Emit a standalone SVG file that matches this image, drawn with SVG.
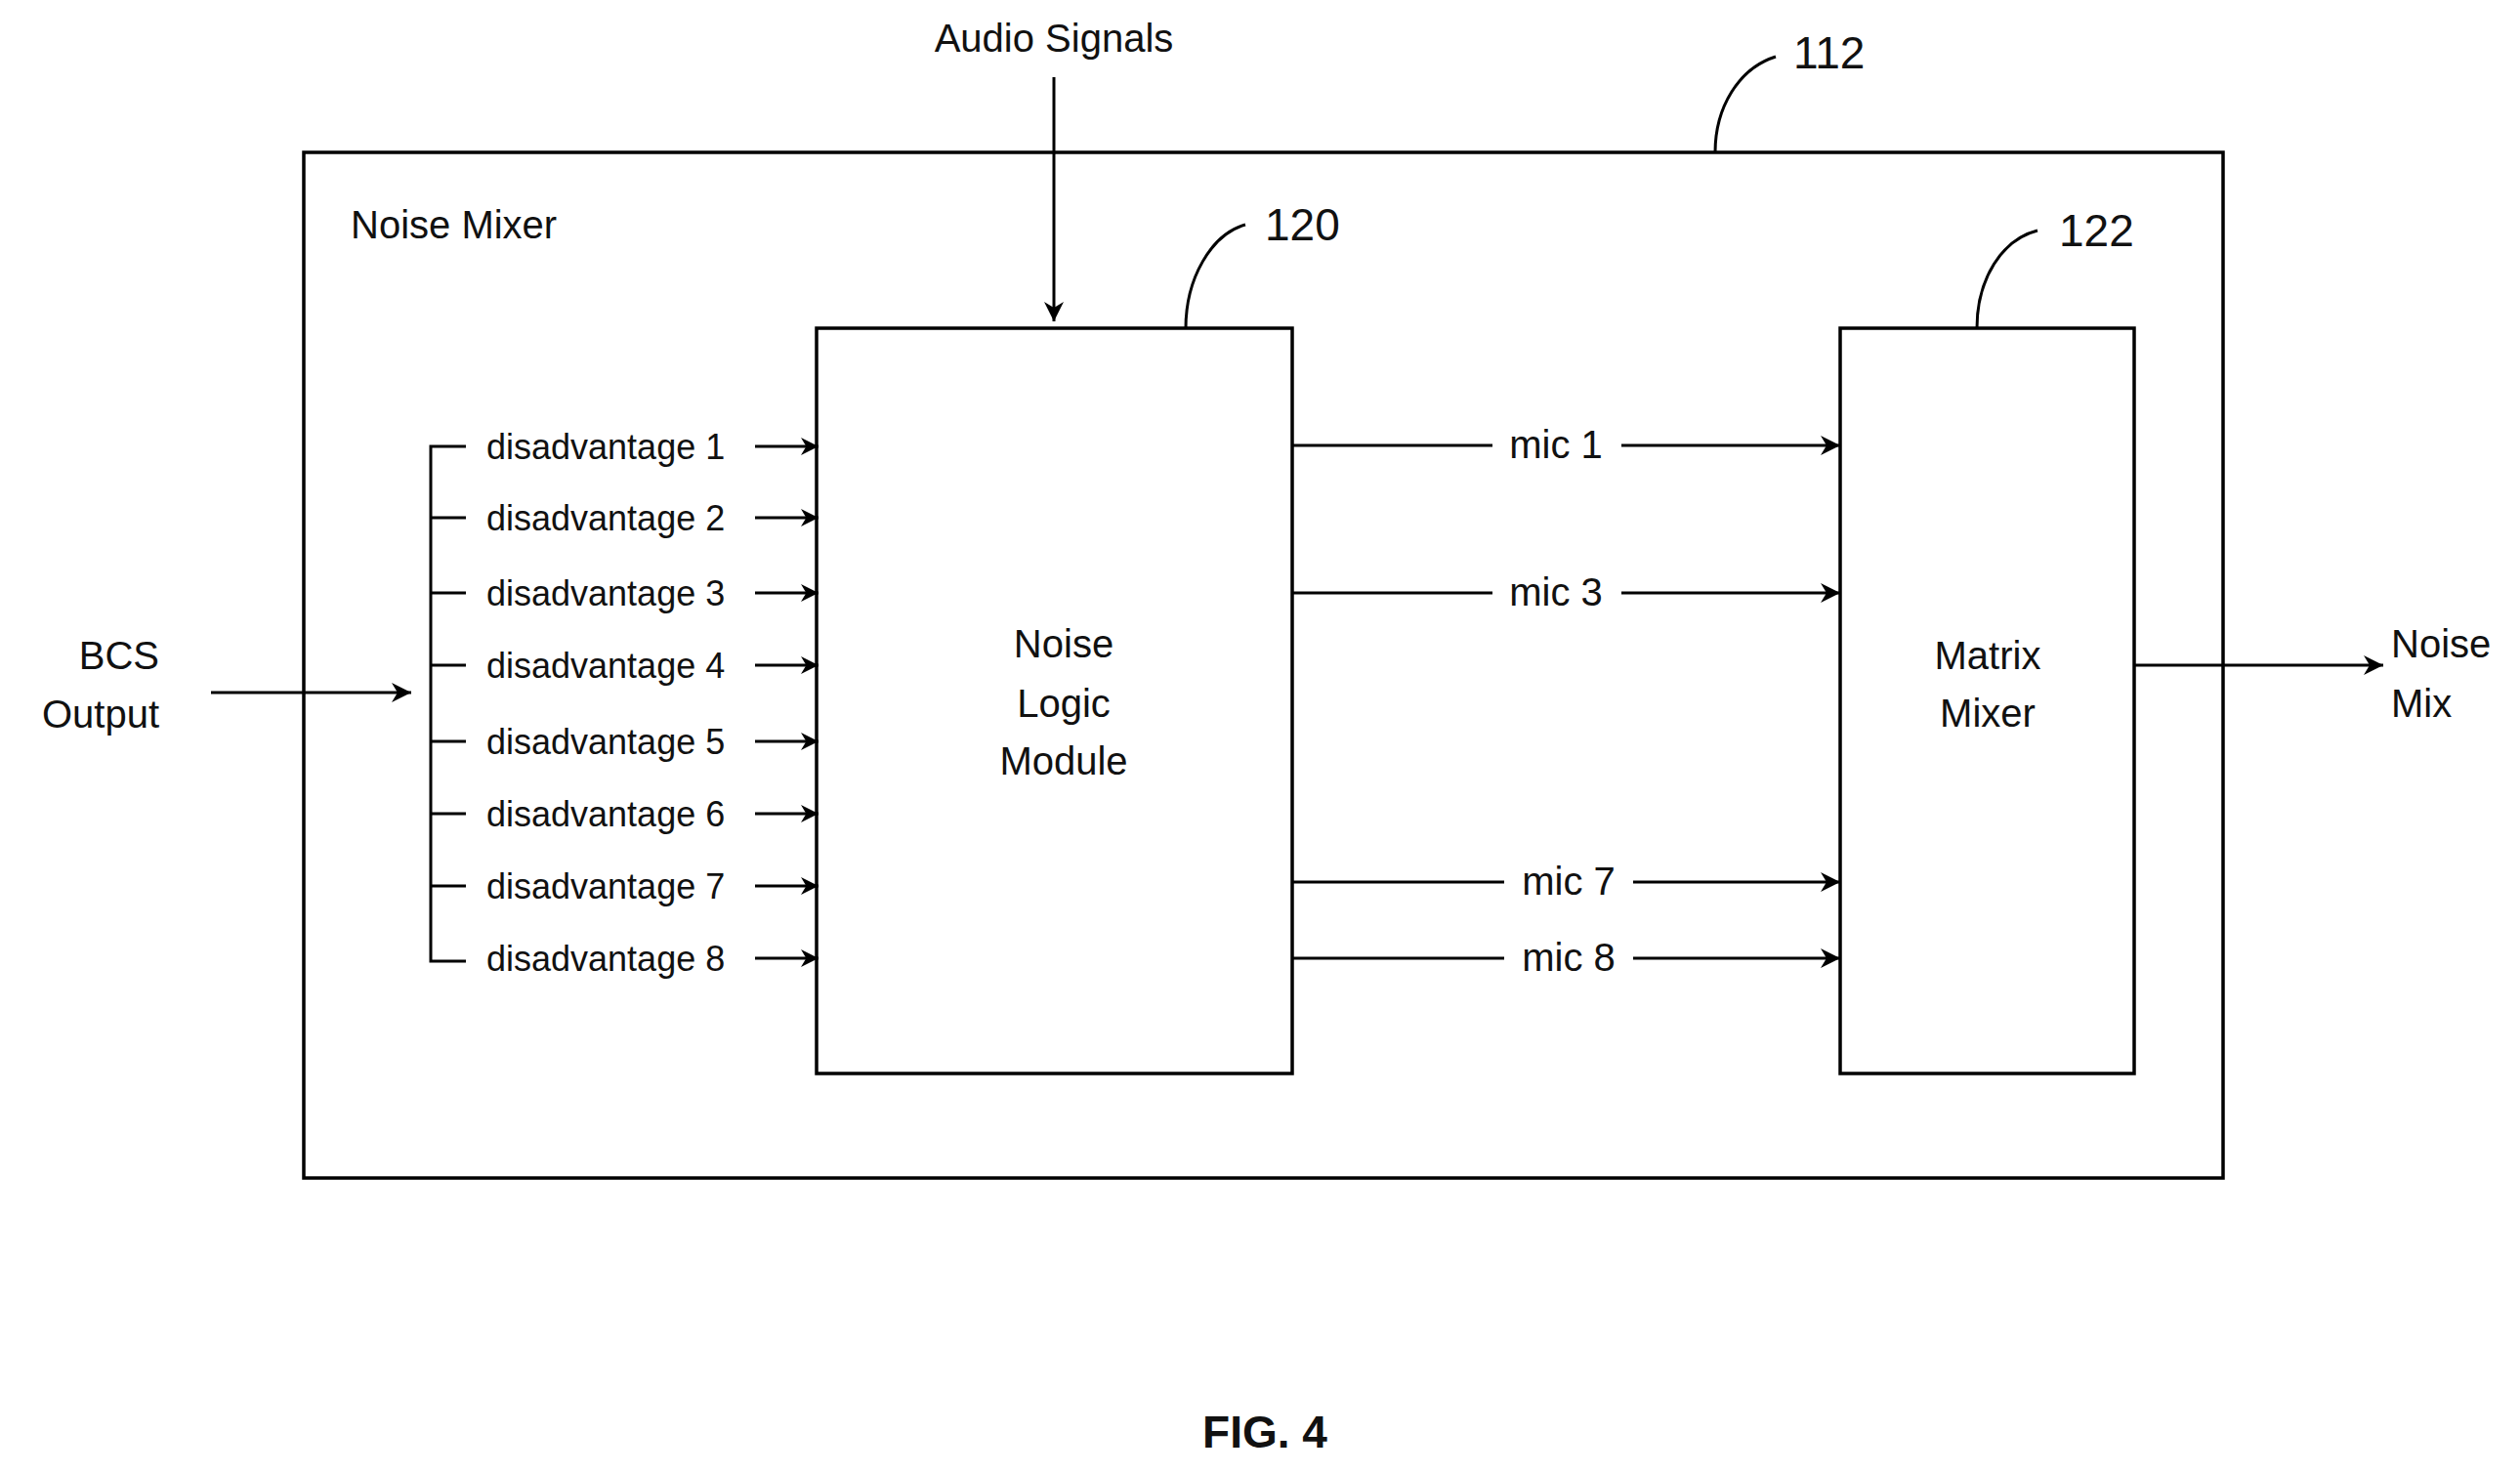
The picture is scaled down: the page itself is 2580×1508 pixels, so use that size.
<svg xmlns="http://www.w3.org/2000/svg" width="2580" height="1508" viewBox="0 0 2580 1508">
<style>
.l{stroke:#000;stroke-width:3;fill:none}
.b{stroke:#000;stroke-width:3.5;fill:#fff}
text{font-family:"Liberation Sans",Arial,sans-serif;font-size:40px;fill:#111}
.d{font-size:36px}
.n{font-size:46px}
.m{text-anchor:middle}
</style>
<defs><marker id="a" viewBox="0 0 10 10" refX="10" refY="5" markerWidth="20" markerHeight="18" markerUnits="userSpaceOnUse" orient="auto"><path d="M0,0L10,5L0,10L3,5z" fill="#000"/></marker>
<marker id="A" viewBox="0 0 10 10" refX="10" refY="5" markerWidth="28" markerHeight="20" markerUnits="userSpaceOnUse" orient="auto"><path d="M0,0L10,5L0,10L3,5z" fill="#000"/></marker></defs>
<rect width="2580" height="1508" fill="#fff"/>
<g id="noise-mixer"><rect class="b" x="311" y="156" width="1965" height="1050"/><text x="359" y="244">Noise Mixer</text>
<path class="l" d="M1756,156C1756,110 1780,70 1818,58"/><text class="n" x="1836" y="70">112</text></g>
<g id="noise-logic"><rect class="b" x="836" y="336" width="487" height="763"/>
<text class="m" x="1089" y="673">Noise</text><text class="m" x="1089" y="734">Logic</text><text class="m" x="1089" y="793">Module</text>
<path class="l" d="M1214,336C1214,285 1240,240 1275,230"/><text class="n" x="1295" y="246">120</text></g>
<g id="matrix-mixer"><rect class="b" x="1884" y="336" width="301" height="763"/>
<text class="m" x="2035" y="685">Matrix</text><text class="m" x="2035" y="744">Mixer</text>
<path class="l" d="M2024,336C2024,285 2050,245 2086,236"/><text class="n" x="2108" y="252">122</text></g>
<g id="labels">
<text class="m" x="1079" y="53">Audio Signals</text>
<text x="163" y="685" text-anchor="end">BCS</text><text x="163" y="745" text-anchor="end">Output</text>
<text x="2448" y="673">Noise</text><text x="2448" y="734">Mix</text>
<text class="m" x="1295" y="1482" style="font-weight:bold;font-size:46px">FIG. 4</text>
<text class="d" x="498" y="470">disadvantage 1</text><text class="d" x="498" y="543">disadvantage 2</text>
<text class="d" x="498" y="620">disadvantage 3</text><text class="d" x="498" y="694">disadvantage 4</text>
<text class="d" x="498" y="772">disadvantage 5</text><text class="d" x="498" y="846">disadvantage 6</text>
<text class="d" x="498" y="920">disadvantage 7</text><text class="d" x="498" y="994">disadvantage 8</text>
<text class="m" x="1593" y="469">mic 1</text><text class="m" x="1593" y="620">mic 3</text>
<text class="m" x="1606" y="916">mic 7</text><text class="m" x="1606" y="994">mic 8</text>
</g>
<g id="connectors">
<path class="l" marker-end="url(#A)" d="M1079,79V329"/>
<path class="l" marker-end="url(#A)" d="M216,709H421"/>
<path class="l" marker-end="url(#A)" d="M2185,681H2440"/>
<path class="l" d="M477,457H441V984H477M441,530H477M441,607H477M441,681H477M441,759H477M441,833H477M441,907H477"/>
<g marker-end="url(#a)" class="l">
<path d="M773,457H838"/><path d="M773,530H838"/><path d="M773,607H838"/><path d="M773,681H838"/>
<path d="M773,759H838"/><path d="M773,833H838"/><path d="M773,907H838"/><path d="M773,981H838"/></g>
<g marker-end="url(#A)" class="l">
<path d="M1323,456H1528M1660,456H1884"/><path d="M1323,607H1528M1660,607H1884"/>
<path d="M1323,903H1540M1672,903H1884"/><path d="M1323,981H1540M1672,981H1884"/></g>
</g>
</svg>
